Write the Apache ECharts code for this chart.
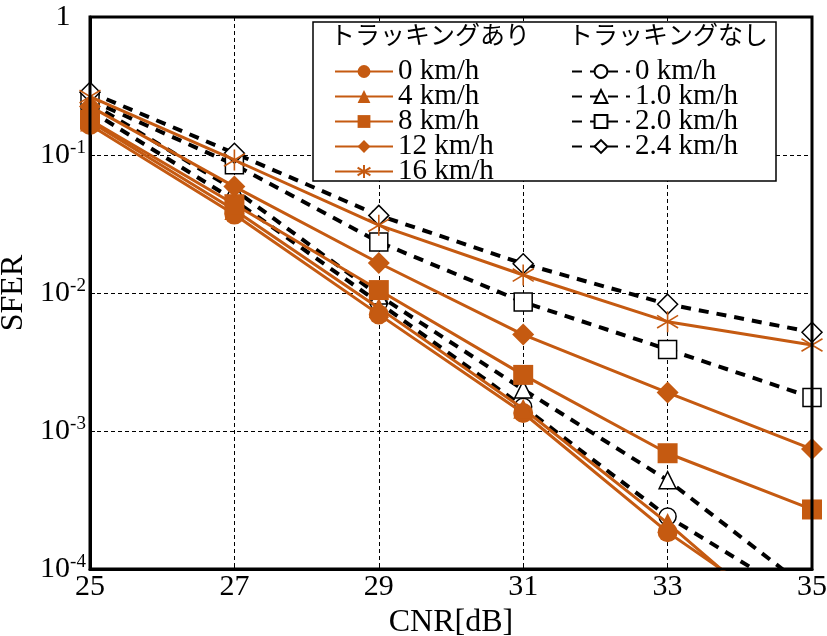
<!DOCTYPE html>
<html>
<head>
<meta charset="utf-8">
<script src="https://cdn.jsdelivr.net/npm/echarts@6/dist/echarts.min.js"></script>
<style>
  html, body { margin: 0; padding: 0; background: #fff; }
  #chart { width: 827px; height: 636px; }
</style>
</head>
<body>
<div id="chart"></div>
<script>
// CNR sweep points [dB]
const cnr = ['25', '27', '29', '31', '33', '35'];

// SFER with carrier tracking (Doppler speeds)
const trk0  = [0.165, 0.037, 0.0070, 0.00135, 0.000185, 0.000035];
const trk4  = [0.175, 0.040, 0.0078, 0.00145, 0.000215, 0.000027];
const trk8  = [0.180, 0.044, 0.0105, 0.00255, 0.00069, 0.00027];
const trk12 = [0.225, 0.059, 0.0165, 0.0050, 0.0019, 0.00074];
const trk16 = [0.265, 0.092, 0.031, 0.0135, 0.0062, 0.0042];

// SFER without tracking
const nt0  = [0.21, 0.047, 0.0085, 0.0015, 0.00024, 0.000055];
const nt1  = [0.24, 0.056, 0.0096, 0.0020, 0.00044, 0.000068];
const nt2  = [0.25, 0.085, 0.0234, 0.0086, 0.0039, 0.00175];
const nt24 = [0.285, 0.103, 0.0365, 0.0163, 0.0083, 0.0052];

const trkNames = ['0 km/h', '4 km/h', '8 km/h', '12 km/h', '16 km/h'];
// trailing space keeps the two "0 km/h" entries distinct
const ntNames = ['0 km/h ', '1.0 km/h', '2.0 km/h', '2.4 km/h'];

const ORANGE = '#c55a11';
const SERIF = 'Liberation Serif';
const asterisk = 'path://M10,0L10,20M1,4L19,16M1,16L19,4';

function trackSeries(name, data, symbol, size) {
  const isStar = symbol === asterisk;
  return {
    name, type: 'line', data, symbol, symbolSize: size, z: 3,
    lineStyle: { color: ORANGE, width: 3 },
    itemStyle: { color: ORANGE, borderColor: ORANGE, borderWidth: isStar ? 1.6 : 0 },
    emphasis: { disabled: true }
  };
}
function plainSeries(name, data, symbol, size) {
  return {
    name, type: 'line', data, symbol, symbolSize: size, z: 2,
    lineStyle: { color: '#000', width: 4, type: [10, 8] },
    itemStyle: { color: '#fff', borderColor: '#000', borderWidth: 1.5 },
    emphasis: { disabled: true }
  };
}

const series = [
  plainSeries(ntNames[0], nt0, 'circle', 17),
  plainSeries(ntNames[1], nt1, 'triangle', 17),
  plainSeries(ntNames[2], nt2, 'rect', 18),
  plainSeries(ntNames[3], nt24, 'diamond', 20),
  trackSeries(trkNames[0], trk0, 'circle', 20),
  trackSeries(trkNames[1], trk4, 'triangle', 20),
  trackSeries(trkNames[2], trk8, 'rect', 20),
  trackSeries(trkNames[3], trk12, 'diamond', 22),
  trackSeries(trkNames[4], trk16, asterisk, 21)
];

const legendText = { fontFamily: SERIF, fontSize: 29, color: '#000' };

const option = {
  animation: false,
  backgroundColor: '#fff',
  grid: {
    left: 90, top: 17, right: 15, bottom: 67, outerBoundsMode: 'none', containLabel: false,
    show: true, borderColor: '#000', borderWidth: 3, z: 10
  },
  xAxis: {
    type: 'category', data: cnr, boundaryGap: false,
    name: 'CNR[dB]', nameLocation: 'middle', nameGap: 26,
    nameTextStyle: { fontFamily: SERIF, fontSize: 32, color: '#000' },
    axisLine: { lineStyle: { color: '#000', width: 3 } },
    axisTick: { inside: true, length: 5, lineStyle: { color: '#000', width: 1 } },
    axisLabel: { fontFamily: SERIF, fontSize: 30, color: '#000', margin: 3 },
    splitLine: { show: true, lineStyle: { color: '#000', width: 1, type: [4, 3] } }
  },
  yAxis: {
    type: 'log', logBase: 10, min: 1e-4, max: 1,
    name: 'SFER', nameLocation: 'middle', nameGap: 47,
    nameTextStyle: { fontFamily: SERIF, fontSize: 32, color: '#000' },
    axisLine: { show: true, lineStyle: { color: '#000', width: 3 } },
    axisTick: { show: true, inside: true, length: 5, lineStyle: { color: '#000', width: 1 } },
    minorTick: { show: false },
    axisLabel: {
      margin: 27, align: 'center',
      formatter: v => {
        const e = Math.round(Math.log10(v));
        return e === 0 ? '{b|1}' : '{b|10}{s|' + e + '}';
      },
      rich: {
        b: { fontFamily: SERIF, fontSize: 30, color: '#000' },
        s: { fontFamily: SERIF, fontSize: 19, color: '#000', padding: [0, 0, 14, 0] }
      }
    },
    splitLine: { show: true, lineStyle: { color: '#000', width: 1, type: [4, 3] } }
  },
  legend: [
    {
      data: trkNames, orient: 'vertical', left: 329, top: 52,
      itemWidth: 58, itemHeight: 16, itemGap: -4, z: 20,
      textStyle: legendText, selectedMode: false
    },
    {
      data: ntNames, orient: 'vertical', left: 566, top: 52,
      itemWidth: 58, itemHeight: 16, itemGap: -4, z: 20,
      textStyle: legendText, selectedMode: false
    }
  ],
  graphic: [
    { type: 'rect', z: 15, shape: { x: 313, y: 22, width: 463, height: 159 },
      style: { fill: '#fff', stroke: '#000', lineWidth: 1.5 } },
    { type: 'text', z: 20, left: 330, top: 22,
      style: { text: 'トラッキングあり', fontFamily: 'Noto Sans CJK JP', fontSize: 25, fill: '#000' } },
    { type: 'text', z: 20, left: 568, top: 22,
      style: { text: 'トラッキングなし', fontFamily: 'Noto Sans CJK JP', fontSize: 25, fill: '#000' } }
  ],
  series
};

const chart = echarts.init(document.getElementById('chart'), null, { renderer: 'canvas' });
chart.setOption(option);
</script>
</body>
</html>
